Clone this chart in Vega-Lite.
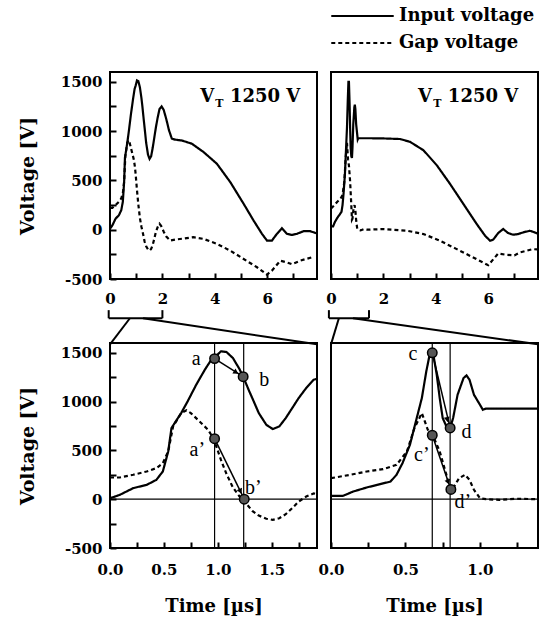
{
  "$schema": "https://vega.github.io/schema/vega-lite/v6.json",
  "padding": {"left": 17, "top": 5, "right": 5, "bottom": 5},
  "background": "white",
  "config": {
    "font": "DejaVu Serif",
    "view": {"stroke": "black", "strokeWidth": 2},
    "axis": {
      "domain": false, "grid": false, "ticks": true, "tickSize": -6, "tickColor": "black", "tickWidth": 2, "zindex": 1,
      "labelFont": "DejaVu Serif", "labelFontSize": 15, "labelFontWeight": "bold", "labelColor": "black",
      "labelOverlap": false, "labelFlush": false,
      "titleFont": "DejaVu Serif", "titleFontWeight": "bold", "titleColor": "black"
    },
    "axisY": {"titleAngle": 270, "titleAlign": "center", "titleBaseline": "middle", "titleFontSize": 19, "labelPadding": 14},
    "axisX": {"titleBaseline": "middle", "titleFontSize": 18}
  },
  "datasets": {
    "left": [
      {"series": "Input voltage", "t": 0, "v": 10},
      {"series": "Input voltage", "t": 0.09, "v": 44},
      {"series": "Input voltage", "t": 0.215, "v": 113},
      {"series": "Input voltage", "t": 0.34, "v": 147},
      {"series": "Input voltage", "t": 0.43, "v": 198},
      {"series": "Input voltage", "t": 0.49, "v": 284},
      {"series": "Input voltage", "t": 0.54, "v": 489},
      {"series": "Input voltage", "t": 0.57, "v": 728},
      {"series": "Input voltage", "t": 0.6, "v": 780},
      {"series": "Input voltage", "t": 0.66, "v": 882},
      {"series": "Input voltage", "t": 0.72, "v": 1002},
      {"series": "Input voltage", "t": 0.8, "v": 1173},
      {"series": "Input voltage", "t": 0.88, "v": 1327},
      {"series": "Input voltage", "t": 0.94, "v": 1429},
      {"series": "Input voltage", "t": 0.98, "v": 1463},
      {"series": "Input voltage", "t": 1.03, "v": 1515},
      {"series": "Input voltage", "t": 1.08, "v": 1508},
      {"series": "Input voltage", "t": 1.14, "v": 1446},
      {"series": "Input voltage", "t": 1.2, "v": 1335},
      {"series": "Input voltage", "t": 1.235, "v": 1255},
      {"series": "Input voltage", "t": 1.29, "v": 1110},
      {"series": "Input voltage", "t": 1.33, "v": 1010},
      {"series": "Input voltage", "t": 1.38, "v": 882},
      {"series": "Input voltage", "t": 1.45, "v": 762},
      {"series": "Input voltage", "t": 1.51, "v": 718},
      {"series": "Input voltage", "t": 1.57, "v": 745},
      {"series": "Input voltage", "t": 1.63, "v": 831},
      {"series": "Input voltage", "t": 1.69, "v": 933},
      {"series": "Input voltage", "t": 1.75, "v": 1036},
      {"series": "Input voltage", "t": 1.82, "v": 1139},
      {"series": "Input voltage", "t": 1.89, "v": 1224},
      {"series": "Input voltage", "t": 1.97, "v": 1250},
      {"series": "Input voltage", "t": 2.05, "v": 1215},
      {"series": "Input voltage", "t": 2.15, "v": 1120},
      {"series": "Input voltage", "t": 2.25, "v": 1010},
      {"series": "Input voltage", "t": 2.36, "v": 924},
      {"series": "Input voltage", "t": 2.48, "v": 914},
      {"series": "Input voltage", "t": 2.74, "v": 905},
      {"series": "Input voltage", "t": 3.12, "v": 873},
      {"series": "Input voltage", "t": 3.57, "v": 788},
      {"series": "Input voltage", "t": 4.08, "v": 669},
      {"series": "Input voltage", "t": 4.59, "v": 483},
      {"series": "Input voltage", "t": 5.1, "v": 263},
      {"series": "Input voltage", "t": 5.48, "v": 93},
      {"series": "Input voltage", "t": 5.8, "v": -42},
      {"series": "Input voltage", "t": 5.99, "v": -110},
      {"series": "Input voltage", "t": 6.18, "v": -110},
      {"series": "Input voltage", "t": 6.37, "v": -42},
      {"series": "Input voltage", "t": 6.56, "v": 15},
      {"series": "Input voltage", "t": 6.75, "v": -42},
      {"series": "Input voltage", "t": 6.94, "v": -53},
      {"series": "Input voltage", "t": 7.13, "v": -42},
      {"series": "Input voltage", "t": 7.39, "v": -15},
      {"series": "Input voltage", "t": 7.64, "v": -15},
      {"series": "Input voltage", "t": 7.88, "v": -36},
      {"series": "Gap voltage", "t": 0, "v": 222},
      {"series": "Gap voltage", "t": 0.09, "v": 222},
      {"series": "Gap voltage", "t": 0.215, "v": 250},
      {"series": "Gap voltage", "t": 0.34, "v": 284},
      {"series": "Gap voltage", "t": 0.43, "v": 318},
      {"series": "Gap voltage", "t": 0.49, "v": 369},
      {"series": "Gap voltage", "t": 0.54, "v": 489},
      {"series": "Gap voltage", "t": 0.585, "v": 745},
      {"series": "Gap voltage", "t": 0.66, "v": 882},
      {"series": "Gap voltage", "t": 0.71, "v": 910},
      {"series": "Gap voltage", "t": 0.75, "v": 882},
      {"series": "Gap voltage", "t": 0.83, "v": 797},
      {"series": "Gap voltage", "t": 0.91, "v": 711},
      {"series": "Gap voltage", "t": 0.95, "v": 640},
      {"series": "Gap voltage", "t": 0.98, "v": 560},
      {"series": "Gap voltage", "t": 1.03, "v": 400},
      {"series": "Gap voltage", "t": 1.08, "v": 260},
      {"series": "Gap voltage", "t": 1.14, "v": 120},
      {"series": "Gap voltage", "t": 1.2, "v": 30},
      {"series": "Gap voltage", "t": 1.26, "v": -40},
      {"series": "Gap voltage", "t": 1.32, "v": -120},
      {"series": "Gap voltage", "t": 1.38, "v": -168},
      {"series": "Gap voltage", "t": 1.45, "v": -200},
      {"series": "Gap voltage", "t": 1.51, "v": -212},
      {"series": "Gap voltage", "t": 1.57, "v": -195},
      {"series": "Gap voltage", "t": 1.63, "v": -154},
      {"series": "Gap voltage", "t": 1.69, "v": -92},
      {"series": "Gap voltage", "t": 1.75, "v": -24},
      {"series": "Gap voltage", "t": 1.82, "v": 27},
      {"series": "Gap voltage", "t": 1.89, "v": 60},
      {"series": "Gap voltage", "t": 1.95, "v": 40},
      {"series": "Gap voltage", "t": 2.05, "v": -20},
      {"series": "Gap voltage", "t": 2.15, "v": -70},
      {"series": "Gap voltage", "t": 2.3, "v": -110},
      {"series": "Gap voltage", "t": 2.5, "v": -100},
      {"series": "Gap voltage", "t": 2.8, "v": -90},
      {"series": "Gap voltage", "t": 3.18, "v": -76},
      {"series": "Gap voltage", "t": 3.57, "v": -93},
      {"series": "Gap voltage", "t": 4.08, "v": -144},
      {"series": "Gap voltage", "t": 4.59, "v": -212},
      {"series": "Gap voltage", "t": 5.1, "v": -297},
      {"series": "Gap voltage", "t": 5.61, "v": -381},
      {"series": "Gap voltage", "t": 5.99, "v": -455},
      {"series": "Gap voltage", "t": 6.18, "v": -415},
      {"series": "Gap voltage", "t": 6.5, "v": -314},
      {"series": "Gap voltage", "t": 6.75, "v": -331},
      {"series": "Gap voltage", "t": 6.94, "v": -350},
      {"series": "Gap voltage", "t": 7.26, "v": -314},
      {"series": "Gap voltage", "t": 7.7, "v": -280}
    ],
    "right": [
      {"series": "Input voltage", "t": 0, "v": 34},
      {"series": "Input voltage", "t": 0.08, "v": 34},
      {"series": "Input voltage", "t": 0.15, "v": 79},
      {"series": "Input voltage", "t": 0.24, "v": 120},
      {"series": "Input voltage", "t": 0.33, "v": 154},
      {"series": "Input voltage", "t": 0.4, "v": 181},
      {"series": "Input voltage", "t": 0.44, "v": 250},
      {"series": "Input voltage", "t": 0.48, "v": 369},
      {"series": "Input voltage", "t": 0.53, "v": 557},
      {"series": "Input voltage", "t": 0.57, "v": 797},
      {"series": "Input voltage", "t": 0.61, "v": 1036},
      {"series": "Input voltage", "t": 0.64, "v": 1310},
      {"series": "Input voltage", "t": 0.665, "v": 1500},
      {"series": "Input voltage", "t": 0.685, "v": 1500},
      {"series": "Input voltage", "t": 0.71, "v": 1276},
      {"series": "Input voltage", "t": 0.73, "v": 1036},
      {"series": "Input voltage", "t": 0.75, "v": 831},
      {"series": "Input voltage", "t": 0.775, "v": 745},
      {"series": "Input voltage", "t": 0.8, "v": 728},
      {"series": "Input voltage", "t": 0.82, "v": 831},
      {"series": "Input voltage", "t": 0.85, "v": 1070},
      {"series": "Input voltage", "t": 0.89, "v": 1241},
      {"series": "Input voltage", "t": 0.91, "v": 1268},
      {"series": "Input voltage", "t": 0.93, "v": 1224},
      {"series": "Input voltage", "t": 0.96, "v": 1070},
      {"series": "Input voltage", "t": 1.0, "v": 968},
      {"series": "Input voltage", "t": 1.02, "v": 916},
      {"series": "Input voltage", "t": 1.04, "v": 928},
      {"series": "Input voltage", "t": 1.5, "v": 928},
      {"series": "Input voltage", "t": 2.0, "v": 926},
      {"series": "Input voltage", "t": 2.64, "v": 920},
      {"series": "Input voltage", "t": 3.02, "v": 891},
      {"series": "Input voltage", "t": 3.53, "v": 806},
      {"series": "Input voltage", "t": 4.04, "v": 653},
      {"series": "Input voltage", "t": 4.54, "v": 466},
      {"series": "Input voltage", "t": 5.05, "v": 262},
      {"series": "Input voltage", "t": 5.56, "v": 58},
      {"series": "Input voltage", "t": 5.88, "v": -61},
      {"series": "Input voltage", "t": 6.07, "v": -112},
      {"series": "Input voltage", "t": 6.19, "v": -101},
      {"series": "Input voltage", "t": 6.38, "v": -34},
      {"series": "Input voltage", "t": 6.57, "v": 7},
      {"series": "Input voltage", "t": 6.76, "v": -34},
      {"series": "Input voltage", "t": 6.95, "v": -51},
      {"series": "Input voltage", "t": 7.14, "v": -44},
      {"series": "Input voltage", "t": 7.34, "v": -27},
      {"series": "Input voltage", "t": 7.59, "v": -10},
      {"series": "Input voltage", "t": 7.88, "v": -38},
      {"series": "Gap voltage", "t": 0, "v": 215},
      {"series": "Gap voltage", "t": 0.13, "v": 250},
      {"series": "Gap voltage", "t": 0.24, "v": 284},
      {"series": "Gap voltage", "t": 0.35, "v": 308},
      {"series": "Gap voltage", "t": 0.44, "v": 352},
      {"series": "Gap voltage", "t": 0.51, "v": 489},
      {"series": "Gap voltage", "t": 0.56, "v": 728},
      {"series": "Gap voltage", "t": 0.61, "v": 882},
      {"series": "Gap voltage", "t": 0.63, "v": 797},
      {"series": "Gap voltage", "t": 0.65, "v": 711},
      {"series": "Gap voltage", "t": 0.685, "v": 650},
      {"series": "Gap voltage", "t": 0.73, "v": 489},
      {"series": "Gap voltage", "t": 0.775, "v": 250},
      {"series": "Gap voltage", "t": 0.8, "v": 103},
      {"series": "Gap voltage", "t": 0.82, "v": 113},
      {"series": "Gap voltage", "t": 0.86, "v": 215},
      {"series": "Gap voltage", "t": 0.9, "v": 250},
      {"series": "Gap voltage", "t": 0.93, "v": 198},
      {"series": "Gap voltage", "t": 0.96, "v": 96},
      {"series": "Gap voltage", "t": 1.0, "v": 10},
      {"series": "Gap voltage", "t": 1.04, "v": 0},
      {"series": "Gap voltage", "t": 1.13, "v": -7},
      {"series": "Gap voltage", "t": 1.24, "v": 5},
      {"series": "Gap voltage", "t": 1.39, "v": 0},
      {"series": "Gap voltage", "t": 2.0, "v": 7},
      {"series": "Gap voltage", "t": 2.9, "v": -10},
      {"series": "Gap voltage", "t": 3.53, "v": -44},
      {"series": "Gap voltage", "t": 4.16, "v": -112},
      {"series": "Gap voltage", "t": 4.8, "v": -197},
      {"series": "Gap voltage", "t": 5.43, "v": -282},
      {"series": "Gap voltage", "t": 6.0, "v": -360},
      {"series": "Gap voltage", "t": 6.38, "v": -242},
      {"series": "Gap voltage", "t": 6.7, "v": -255},
      {"series": "Gap voltage", "t": 7.0, "v": -260},
      {"series": "Gap voltage", "t": 7.2, "v": -231},
      {"series": "Gap voltage", "t": 7.7, "v": -197},
      {"series": "Gap voltage", "t": 7.88, "v": -200}
    ],
    "bracketLeft": [
      {"t": -0.05, "v": -816, "t2": -0.05, "v2": -898},
      {"t": -0.05, "v": -898, "t2": 2.0, "v2": -898},
      {"t": 2.0, "v": -898, "t2": 2.0, "v2": -816},
      {"t": 0.76, "v": -898, "t2": 0, "v2": -1163},
      {"t": 1.26, "v": -898, "t2": 7.9, "v2": -1163}
    ],
    "bracketRight": [
      {"t": -0.08, "v": -816, "t2": -0.08, "v2": -898},
      {"t": -0.08, "v": -898, "t2": 1.45, "v2": -898},
      {"t": 1.45, "v": -898, "t2": 1.45, "v2": -816},
      {"t": 0.3, "v": -898, "t2": 0, "v2": -1163},
      {"t": 0.84, "v": -898, "t2": 7.9, "v2": -1163}
    ],
    "vtLeft": [
      {"label": "V", "t": 3.44, "v": 1296},
      {"label": "1250 V", "t": 4.58, "v": 1296}
    ],
    "subLeft": [{"label": "T", "t": 4.02, "v": 1245}],
    "vtRight": [
      {"label": "V", "t": 3.32, "v": 1296},
      {"label": "1250 V", "t": 4.46, "v": 1296}
    ],
    "subRight": [{"label": "T", "t": 3.9, "v": 1245}],
    "guidesLeft": [
      {"t": 0.97, "v": -500, "t2": 0.97, "v2": 1600},
      {"t": 1.24, "v": -500, "t2": 1.24, "v2": 1600},
      {"t": 0, "v": 0, "t2": 1.92, "v2": 0}
    ],
    "arrowsLeft": [
      {"t": 0.97, "v": 1440, "t2": 1.235, "v2": 1255},
      {"t": 0.97, "v": 620, "t2": 1.245, "v2": 0}
    ],
    "headAB": [{"t": 1.17, "v": 1300}],
    "headAB2": [{"t": 1.21, "v": 80}],
    "headCD": [{"t": 0.781, "v": 815}],
    "headCD2": [{"t": 0.787, "v": 175}],
    "pointsLeft": [
      {"label": "a", "t": 0.97, "v": 1440},
      {"label": "b", "t": 1.235, "v": 1255},
      {"label": "a’", "t": 0.97, "v": 620},
      {"label": "b’", "t": 1.245, "v": 0}
    ],
    "labelsLeft": [
      {"label": "a", "t": 0.8, "v": 1440},
      {"label": "b", "t": 1.43, "v": 1224},
      {"label": "a’", "t": 0.81, "v": 506},
      {"label": "b’", "t": 1.33, "v": 113}
    ],
    "guidesRight": [
      {"t": 0.68, "v": -500, "t2": 0.68, "v2": 1600},
      {"t": 0.8, "v": -500, "t2": 0.8, "v2": 1600},
      {"t": 0, "v": 0, "t2": 1.39, "v2": 0}
    ],
    "arrowsRight": [
      {"t": 0.68, "v": 1500, "t2": 0.8, "v2": 730},
      {"t": 0.68, "v": 655, "t2": 0.805, "v2": 100}
    ],
    "pointsRight": [
      {"label": "c", "t": 0.68, "v": 1500},
      {"label": "d", "t": 0.8, "v": 730},
      {"label": "c’", "t": 0.68, "v": 655},
      {"label": "d’", "t": 0.805, "v": 100}
    ],
    "labelsRight": [
      {"label": "c", "t": 0.55, "v": 1487},
      {"label": "d", "t": 0.91, "v": 687},
      {"label": "c’", "t": 0.61, "v": 455},
      {"label": "d’", "t": 0.885, "v": -24}
    ]
  },
  "columns": 2,
  "spacing": {"row": 64, "column": 14},
  "bounds": "flush",
  "concat": [
    {
      "width": 207, "height": 207,
      "encoding": {
        "x": {"field": "t", "type": "quantitative", "scale": {"domain": [0, 7.9], "nice": false, "zero": false},
          "axis": {"values": [0, 1, 2, 3, 4, 5, 6, 7], "labelExpr": "datum.value % 2 == 0 ? '' + datum.value : ''", "title": null, "ticks": true, "tickSize": -6, "tickWidth": 2, "tickColor": "black", "zindex": 1, "labelPadding": 18}},
        "y": {"field": "v", "type": "quantitative", "scale": {"domain": [-500, 1600], "nice": false, "zero": false},
          "axis": {"values": [-500, -250, 0, 250, 500, 750, 1000, 1250, 1500], "labelExpr": "datum.value % 500 == 0 ? '' + datum.value : ''", "title": "Voltage [V]", "titleX": -83, "titleY": 103.5, "ticks": true, "tickSize": -6, "tickWidth": 2, "tickColor": "black", "zindex": 1, "labelPadding": 14}}
      },
      "layer": [
        {"data": {"name": "left"}, "mark": {"type": "line", "color": "black", "strokeWidth": 2.2},
          "encoding": {"strokeDash": {"field": "series", "type": "nominal", "scale": {"domain": ["Input voltage", "Gap voltage"], "range": [[1, 0], [4, 3]]},
            "legend": {"orient": "none", "legendX": 220, "legendY": -67, "title": null, "symbolType": "stroke", "symbolSize": 3900, "symbolStrokeWidth": 2, "symbolStrokeColor": "black", "labelFont": "DejaVu Serif", "labelFontWeight": "bold", "labelFontSize": 18, "labelColor": "black", "clipHeight": 22, "rowPadding": 5, "labelOffset": 4}}}},
        {"data": {"name": "bracketLeft"}, "mark": {"type": "rule", "color": "black", "strokeWidth": 2, "clip": false},
          "encoding": {"x2": {"field": "t2"}, "y2": {"field": "v2"}}},
        {"data": {"name": "vtLeft"}, "mark": {"type": "text", "font": "DejaVu Serif", "fontSize": 18, "fontWeight": "bold", "align": "left", "baseline": "alphabetic", "color": "black"},
          "encoding": {"text": {"field": "label"}}},
        {"data": {"name": "subLeft"}, "mark": {"type": "text", "font": "DejaVu Serif", "fontSize": 11, "fontWeight": "bold", "align": "left", "baseline": "alphabetic", "color": "black"},
          "encoding": {"text": {"field": "label"}}}
      ]
    },
    {
      "width": 207, "height": 207,
      "encoding": {
        "x": {"field": "t", "type": "quantitative", "scale": {"domain": [0, 7.9], "nice": false, "zero": false},
          "axis": {"values": [0, 1, 2, 3, 4, 5, 6, 7], "labelExpr": "datum.value % 2 == 0 ? '' + datum.value : ''", "title": null, "ticks": true, "tickSize": -6, "tickWidth": 2, "tickColor": "black", "zindex": 1, "labelPadding": 18}},
        "y": {"field": "v", "type": "quantitative", "scale": {"domain": [-500, 1600], "nice": false, "zero": false}, "axis": null}
      },
      "layer": [
        {"data": {"name": "right"}, "mark": {"type": "line", "color": "black", "strokeWidth": 2.2},
          "encoding": {"strokeDash": {"field": "series", "type": "nominal", "scale": {"domain": ["Input voltage", "Gap voltage"], "range": [[1, 0], [4, 3]]},
            "legend": {"orient": "none", "legendX": 220, "legendY": -67, "title": null, "symbolType": "stroke", "symbolSize": 3900, "symbolStrokeWidth": 2, "symbolStrokeColor": "black", "labelFont": "DejaVu Serif", "labelFontWeight": "bold", "labelFontSize": 18, "labelColor": "black", "clipHeight": 22, "rowPadding": 5, "labelOffset": 4}}}},
        {"data": {"name": "bracketRight"}, "mark": {"type": "rule", "color": "black", "strokeWidth": 2, "clip": false},
          "encoding": {"x2": {"field": "t2"}, "y2": {"field": "v2"}}},
        {"data": {"name": "vtRight"}, "mark": {"type": "text", "font": "DejaVu Serif", "fontSize": 18, "fontWeight": "bold", "align": "left", "baseline": "alphabetic", "color": "black"},
          "encoding": {"text": {"field": "label"}}},
        {"data": {"name": "subRight"}, "mark": {"type": "text", "font": "DejaVu Serif", "fontSize": 11, "fontWeight": "bold", "align": "left", "baseline": "alphabetic", "color": "black"},
          "encoding": {"text": {"field": "label"}}}
      ]
    },
    {
      "width": 207, "height": 205,
      "encoding": {
        "x": {"field": "t", "type": "quantitative", "scale": {"domain": [0, 1.92], "nice": false, "zero": false},
          "axis": {"values": [0, 0.25, 0.5, 0.75, 1, 1.25, 1.5, 1.75], "labelExpr": "datum.value % 0.5 == 0 ? format(datum.value, '.1f') : ''", "title": "Time [µs]", "ticks": true, "tickSize": -6, "tickWidth": 2, "tickColor": "black", "zindex": 1, "labelPadding": 20, "titleY": 58}},
        "y": {"field": "v", "type": "quantitative", "scale": {"domain": [-500, 1600], "nice": false, "zero": false},
          "axis": {"values": [-500, -250, 0, 250, 500, 750, 1000, 1250, 1500], "labelExpr": "datum.value % 500 == 0 ? '' + datum.value : ''", "title": "Voltage [V]", "titleX": -83, "titleY": 102.5, "ticks": true, "tickSize": -6, "tickWidth": 2, "tickColor": "black", "zindex": 1, "labelPadding": 14}}
      },
      "layer": [
        {"data": {"name": "left"}, "mark": {"type": "line", "color": "black", "strokeWidth": 2.2, "clip": true},
          "encoding": {"strokeDash": {"field": "series", "type": "nominal", "scale": {"domain": ["Input voltage", "Gap voltage"], "range": [[1, 0], [4, 3]]},
            "legend": {"orient": "none", "legendX": 220, "legendY": -67, "title": null, "symbolType": "stroke", "symbolSize": 3900, "symbolStrokeWidth": 2, "symbolStrokeColor": "black", "labelFont": "DejaVu Serif", "labelFontWeight": "bold", "labelFontSize": 18, "labelColor": "black", "clipHeight": 22, "rowPadding": 5, "labelOffset": 4}}}},
        {"data": {"name": "guidesLeft"}, "mark": {"type": "rule", "color": "black", "strokeWidth": 1.2},
          "encoding": {"x2": {"field": "t2"}, "y2": {"field": "v2"}}},
        {"data": {"name": "arrowsLeft"}, "mark": {"type": "rule", "color": "black", "strokeWidth": 1.5},
          "encoding": {"x2": {"field": "t2"}, "y2": {"field": "v2"}}},
        {"data": {"name": "headAB"}, "mark": {"type": "point", "shape": "triangle-right", "angle": 32, "filled": true, "color": "black", "size": 35, "opacity": 1}},
        {"data": {"name": "headAB2"}, "mark": {"type": "point", "shape": "triangle-right", "angle": 64, "filled": true, "color": "black", "size": 35, "opacity": 1}},
        {"data": {"name": "pointsLeft"}, "mark": {"type": "point", "filled": true, "fill": "#555555", "stroke": "black", "strokeWidth": 1.5, "size": 90, "opacity": 1}},
        {"data": {"name": "labelsLeft"}, "mark": {"type": "text", "font": "Liberation Serif", "fontSize": 20, "align": "center", "baseline": "middle", "color": "black"},
          "encoding": {"text": {"field": "label"}}}
      ]
    },
    {
      "width": 207, "height": 205,
      "encoding": {
        "x": {"field": "t", "type": "quantitative", "scale": {"domain": [0, 1.39], "nice": false, "zero": false},
          "axis": {"values": [0, 0.25, 0.5, 0.75, 1, 1.25], "labelExpr": "datum.value % 0.5 == 0 ? format(datum.value, '.1f') : ''", "title": "Time [µs]", "ticks": true, "tickSize": -6, "tickWidth": 2, "tickColor": "black", "zindex": 1, "labelPadding": 20, "titleY": 58}},
        "y": {"field": "v", "type": "quantitative", "scale": {"domain": [-500, 1600], "nice": false, "zero": false}, "axis": null}
      },
      "layer": [
        {"data": {"name": "right"}, "mark": {"type": "line", "color": "black", "strokeWidth": 2.2, "clip": true},
          "encoding": {"strokeDash": {"field": "series", "type": "nominal", "scale": {"domain": ["Input voltage", "Gap voltage"], "range": [[1, 0], [4, 3]]},
            "legend": {"orient": "none", "legendX": 220, "legendY": -67, "title": null, "symbolType": "stroke", "symbolSize": 3900, "symbolStrokeWidth": 2, "symbolStrokeColor": "black", "labelFont": "DejaVu Serif", "labelFontWeight": "bold", "labelFontSize": 18, "labelColor": "black", "clipHeight": 22, "rowPadding": 5, "labelOffset": 4}}}},
        {"data": {"name": "guidesRight"}, "mark": {"type": "rule", "color": "black", "strokeWidth": 1.2},
          "encoding": {"x2": {"field": "t2"}, "y2": {"field": "v2"}}},
        {"data": {"name": "arrowsRight"}, "mark": {"type": "rule", "color": "black", "strokeWidth": 1.5},
          "encoding": {"x2": {"field": "t2"}, "y2": {"field": "v2"}}},
        {"data": {"name": "headCD"}, "mark": {"type": "point", "shape": "triangle-right", "angle": 77, "filled": true, "color": "black", "size": 35, "opacity": 1}},
        {"data": {"name": "headCD2"}, "mark": {"type": "point", "shape": "triangle-right", "angle": 71, "filled": true, "color": "black", "size": 35, "opacity": 1}},
        {"data": {"name": "pointsRight"}, "mark": {"type": "point", "filled": true, "fill": "#555555", "stroke": "black", "strokeWidth": 1.5, "size": 90, "opacity": 1}},
        {"data": {"name": "labelsRight"}, "mark": {"type": "text", "font": "Liberation Serif", "fontSize": 20, "align": "center", "baseline": "middle", "color": "black"},
          "encoding": {"text": {"field": "label"}}}
      ]
    }
  ]
}
